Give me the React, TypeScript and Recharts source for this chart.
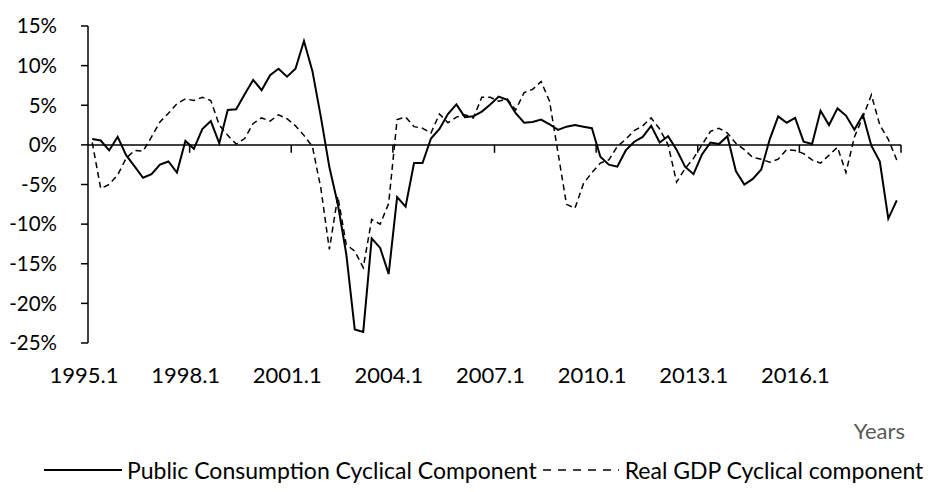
import React from 'react';
import { LineChart, Line, XAxis, YAxis, ReferenceLine, Legend } from 'recharts';

// Quarterly categories 1995.1 .. 2018.4
const startYear = 1995;
const endYear = 2018;
const quarters: string[] = [];
for (let y = startYear; y <= endYear; y++) {
  for (let q = 1; q <= 4; q++) quarters.push(`${y}.${q}`);
}

// Public Consumption Cyclical Component (%)
const publicConsumption = [
  0.75, 0.55, -0.7, 1.0, -1.3, -2.7, -4.15, -3.7, -2.5, -2.1, -3.5, 0.5,
  -0.5, 2.0, 3.0, 0.2, 4.4, 4.5, 6.4, 8.2, 6.9, 8.8, 9.6, 8.6,
  9.6, 13.1, 9.3, 3.5, -2.8, -7.5, -13.8, -23.3, -23.6, -11.8, -13.0, -16.3,
  -6.6, -7.8, -2.3, -2.3, 0.8, 2.0, 3.9, 5.1, 3.5, 3.6, 4.2, 5.1,
  6.1, 5.7, 4.0, 2.8, 2.9, 3.2, 2.6, 1.9, 2.3, 2.5, 2.3, 2.1,
  -1.5, -2.5, -2.75, -0.7, 0.4, 1.0, 2.4, 0.3, 1.1, -0.6, -2.75, -3.7,
  -1.2, 0.3, 0.1, 1.1, -3.3, -5.0, -4.3, -3.1, 0.7, 3.6, 2.8, 3.4,
  0.4, 0.1, 4.3, 2.5, 4.6, 3.7, 1.9, 3.8, -0.1, -2.1, -9.3, -7.0,
];

// Real GDP Cyclical component (%)
const realGDP = [
  0.3, -5.5, -5.0, -3.8, -1.7, -0.7, -0.8, 1.0, 2.9, 4.0, 5.2, 5.8,
  5.6, 6.0, 5.6, 2.5, 1.2, 0.1, 0.8, 2.7, 3.4, 3.0, 3.8, 3.3,
  2.4, 1.2, -0.2, -5.5, -13.2, -6.5, -12.6, -13.4, -15.5, -9.4, -10.0, -7.4,
  3.2, 3.5, 2.3, 2.1, 1.5, 3.9, 2.8, 3.5, 3.8, 3.4, 6.0, 6.0,
  5.5, 5.8, 4.4, 6.6, 7.0, 8.0, 5.5, -1.0, -7.5, -8.0, -4.9, -3.5,
  -2.3, -1.9, -0.2, 0.7, 1.8, 2.4, 3.4, 2.0, 0.0, -4.7, -3.0, -1.7,
  0.0, 1.7, 2.1, 1.5, 0.2, -0.6, -1.6, -1.8, -2.2, -1.8, -0.6, -0.7,
  -1.1, -1.9, -2.3, -1.3, -0.3, -3.5, 1.0, 3.5, 6.3, 2.5, 0.7, -1.9,
];

const xTickLabels = ['1995.1', '1998.1', '2001.1', '2004.1', '2007.1', '2010.1', '2013.1', '2016.1'];
const yTicks = [-25, -20, -15, -10, -5, 0, 5, 10, 15];

const seriesNames = ['Public Consumption Cyclical Component', 'Real GDP Cyclical component'];

const data = quarters.map((q, i) => ({
  idx: i,
  quarter: q,
  pc: publicConsumption[i],
  gdp: realGDP[i],
}));

// category boundaries (Excel-style "between tick marks")
const labelPositions = xTickLabels.map((l) => quarters.indexOf(l) - 0.5);
const tickMarkPositions = [...labelPositions.slice(1), quarters.length - 0.5];

const FONT = 'Lato, "Open Sans", sans-serif';
const FS = 22;
const Y_FS = 20.5;
const LEGEND_FS = 23;

const renderLegend = () => (
  <div
    style={{
      display: 'flex',
      alignItems: 'center',
      fontFamily: FONT,
      fontSize: LEGEND_FS,
      color: '#000',
      paddingLeft: 44,
      whiteSpace: 'nowrap',
      lineHeight: '26px',
    }}
  >
    <svg width={78} height={10} style={{ display: 'block' }}>
      <line x1={0} y1={5} x2={78} y2={5} stroke="#000" strokeWidth={2} />
    </svg>
    <span style={{ marginLeft: 5, marginRight: 6 }}>{seriesNames[0]}</span>
    <svg width={76} height={10} style={{ display: 'block' }}>
      <line x1={0} y1={5} x2={76} y2={5} stroke="#000" strokeWidth={1.5} strokeDasharray="8 7" />
    </svg>
    <span style={{ marginLeft: 6 }}>{seriesNames[1]}</span>
  </div>
);

export default function App() {
  return (
    <div style={{ position: 'absolute', left: 0, top: 0, width: 934, height: 492, background: '#fff' }}>
      <LineChart
        width={934}
        height={492}
        data={data}
        margin={{ top: 26, right: 33, bottom: 57, left: 8 }}
      >
        <XAxis
          dataKey="idx"
          type="number"
          domain={[-0.5, quarters.length - 0.5]}
          ticks={labelPositions}
          interval={0}
          tickFormatter={(v: number) => xTickLabels[labelPositions.indexOf(v)] ?? ''}
          axisLine={false}
          tickLine={false}
          tickSize={0}
          tickMargin={24}
          height={92}
          tick={{ fill: '#000', fontSize: FS, fontFamily: FONT, dx: -4 }}
          label={{
            value: 'Years',
            position: 'insideBottomRight',
            offset: -4,
            fill: '#595959',
            fontSize: FS,
            fontFamily: FONT,
          }}
        />
        <YAxis
          type="number"
          domain={[-25, 15]}
          ticks={yTicks}
          interval={0}
          tickFormatter={(v: number) => `${v}%`}
          width={80}
          axisLine={{ stroke: '#000', strokeWidth: 1.5 }}
          tickLine={{ stroke: '#000', strokeWidth: 1.5 }}
          tickSize={7}
          tickMargin={24}
          tick={{ fill: '#000', fontSize: Y_FS, fontFamily: FONT }}
        />
        <ReferenceLine y={0} stroke="#000" strokeWidth={1.5} />
        {tickMarkPositions.map((t) => (
          <ReferenceLine
            key={t}
            segment={[
              { x: t, y: 0 },
              { x: t, y: -1 },
            ]}
            stroke="#000"
            strokeWidth={1.5}
          />
        ))}
        <Line
          type="linear"
          dataKey="pc"
          name={seriesNames[0]}
          stroke="#000"
          strokeWidth={2}
          dot={false}
          isAnimationActive={false}
        />
        <Line
          type="linear"
          dataKey="gdp"
          name={seriesNames[1]}
          stroke="#000"
          strokeWidth={1.5}
          strokeDasharray="6 4"
          dot={false}
          isAnimationActive={false}
        />
        <Legend
          layout="horizontal"
          verticalAlign="middle"
          align="center"
          wrapperStyle={{ top: 457, left: 0, width: 934, height: 26 }}
          content={renderLegend}
        />
      </LineChart>
    </div>
  );
}
